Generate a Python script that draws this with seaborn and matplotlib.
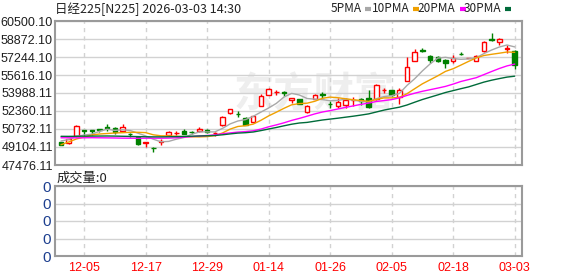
import numpy as np
import pandas as pd
import matplotlib
matplotlib.use("Agg")
import matplotlib.pyplot as plt
from matplotlib.lines import Line2D
import seaborn as sns

# Nikkei 225 daily candles
dates = [
    '2025-12-02', '2025-12-03', '2025-12-04', '2025-12-05', '2025-12-08', '2025-12-09', '2025-12-10',
    '2025-12-11', '2025-12-12', '2025-12-15', '2025-12-16', '2025-12-17', '2025-12-18', '2025-12-19',
    '2025-12-22', '2025-12-23', '2025-12-24', '2025-12-25', '2025-12-26', '2025-12-29', '2025-12-30',
    '2026-01-05', '2026-01-06', '2026-01-07', '2026-01-08', '2026-01-09', '2026-01-13', '2026-01-14',
    '2026-01-15', '2026-01-16', '2026-01-19', '2026-01-20', '2026-01-21', '2026-01-22', '2026-01-23',
    '2026-01-26', '2026-01-27', '2026-01-28', '2026-01-29', '2026-01-30', '2026-02-02', '2026-02-03',
    '2026-02-04', '2026-02-05', '2026-02-06', '2026-02-09', '2026-02-10', '2026-02-12', '2026-02-13',
    '2026-02-16', '2026-02-17', '2026-02-18', '2026-02-19', '2026-02-20', '2026-02-24', '2026-02-25',
    '2026-02-26', '2026-02-27', '2026-03-02', '2026-03-03',
]
open_ = [49530, 49466, 50099, 50615, 50620, 50690, 50913, 50823, 50580, 50310,
         50009, 49510, 49030, 49556, 50160, 50350, 50520, 50480, 50520, 50670,
         50350, 51050, 52200, 52110, 51700, 51390, 52812, 53850, 54090, 54040,
         53400, 53420, 52240, 53460, 53880, 53010, 52840, 52900, 53340, 53420,
         53510, 53445, 54240, 54260, 53650, 55100, 56882, 57920, 57290, 57244,
         56973, 56882, 57560, 57150, 56882, 57787, 58917, 58630, 58010, 57787]
high = [49580, 49850, 51050, 50640, 50650, 50760, 51184, 50890, 51184, 50400,
        50140, 49560, 49080, 49850, 50550, 50520, 50690, 50520, 50890, 50760,
        50500, 51900, 52540, 52360, 51850, 51910, 53940, 54440, 54260, 54200,
        53580, 53490, 52860, 53900, 54050, 53290, 53510, 53560, 53650, 53560,
        54260, 54760, 54410, 54300, 54410, 57240, 58010, 58100, 57470, 57290,
        57020, 57380, 57740, 57150, 57380, 58650, 59370, 58920, 58329, 57877]
low = [49290, 49420, 50050, 50099, 50190, 50460, 50520, 50280, 50551, 50009,
       49330, 49080, 48610, 49260, 50099, 50160, 50280, 50280, 50460, 50370,
       50099, 51003, 52060, 51850, 51050, 51320, 52770, 53810, 53810, 53720,
       53050, 52990, 52220, 53445, 53510, 52600, 52600, 52600, 52812, 52900,
       52630, 53400, 54020, 53760, 52990, 55030, 56840, 57740, 56670, 56790,
       56220, 56700, 57425, 57150, 56840, 57740, 58736, 58329, 57580, 56159]
close = [49330, 49828, 51003, 50570, 50560, 50640, 50780, 50461, 50890, 50235,
         49405, 49540, 48990, 49690, 50430, 50390, 50310, 50440, 50760, 50461,
         50390, 51860, 52510, 52060, 51094, 51880, 53740, 54390, 54120, 53990,
         53510, 53020, 52812, 53780, 53840, 52970, 53200, 53355, 53380, 53240,
         52700, 54712, 54280, 53807, 54230, 56350, 57720, 57830, 56973, 56850,
         56700, 57154, 57515, 57150, 57360, 58560, 58781, 58872, 58060, 56520]

# moving average lines as drawn on the chart
ma5 = [49647, 49783, 50054, 50190, 50262, 50524, 50714, 50606, 50669, 50597,
       50353, 50108, 49810, 49575, 49611, 49810, 49964, 50253, 50470, 50470,
       50470, 50787, 51194, 51456, 51583, 51881, 52261, 52632, 53048, 53627,
       53952, 53807, 53491, 53428, 53391, 53283, 53319, 53428, 53346, 53229,
       53174, 53473, 53663, 53744, 53943, 54676, 55282, 55987, 56620, 57145,
       57217, 57099, 57036, 57072, 57181, 57552, 57877, 58148, 58329, 58158]
ma10 = [49313, 49557, 49828, 50009, 50190, 50280, 50325, 50371, 50398, 50434,
        50434, 50407, 50208, 50117, 50108, 50081, 50036, 50027, 50018, 50045,
        50136, 50371, 50723, 50959, 51031, 51176, 51519, 51917, 52252, 52605,
        52921, 53030, 53066, 53238, 53509, 53617, 53563, 53464, 53382, 53310,
        53229, 53400, 53546, 53546, 53590, 53925, 54377, 54820, 55182, 55544,
        55942, 56186, 56512, 56846, 57163, 57380, 57489, 57588, 57696, 57669]
ma20 = [49937, 49940, 49930, 49937, 49945, 49937, 49930, 49920, 49905, 49900,
        49895, 49900, 49905, 49900, 49910, 49937, 49991, 50045, 50099, 50145,
        50199, 50298, 50380, 50452, 50497, 50570, 50723, 50931, 51103, 51293,
        51510, 51691, 51890, 52098, 52270, 52397, 52541, 52686, 52822, 52957,
        53075, 53220, 53301, 53391, 53546, 53772, 53971, 54143, 54287, 54432,
        54586, 54794, 55029, 55201, 55373, 55653, 55933, 56204, 56439, 56602]
ma30 = [50070, 50065, 50075, 50085, 50090, 50095, 50100, 50090, 50075, 50060,
        50045, 50030, 50020, 50020, 50030, 50045, 50060, 50080, 50100, 50120,
        50145, 50208, 50289, 50362, 50398, 50461, 50588, 50732, 50868, 51022,
        51166, 51275, 51329, 51438, 51546, 51628, 51709, 51800, 51890, 51990,
        52098, 52270, 52442, 52578, 52704, 52903, 53156, 53400, 53608, 53816,
        54033, 54205, 54377, 54540, 54757, 54974, 55146, 55291, 55426, 55508]

price_ticks = [47476.11, 49104.11, 50732.11, 52360.11, 53988.11, 55616.10, 57244.10, 58872.10, 60500.10]
tick_dates = ['2025-12-05', '2025-12-17', '2025-12-29', '2026-01-14',
              '2026-01-26', '2026-02-05', '2026-02-18', '2026-03-03']
volume_ticks = [0, 1, 2, 3, 4]
volume_labels = ['0', '0', '0', '0', '0']

ma_names = ['5PMA', '10PMA', '20PMA', '30PMA']
ma_colors = ['#a8a8a8', '#f0a000', '#ff00ff', '#006b3a']
red = '#ff0000'
green = '#008000'
grid_c = '#d2d2d2'
frame_c = '#9a9a9a'

sns.set_style('white')
plt.rcParams['font.family'] = ['Liberation Sans', 'Noto Sans CJK SC', 'DejaVu Sans']

df = pd.DataFrame({'date': pd.to_datetime(dates), 'open': open_, 'high': high,
                   'low': low, 'close': close})
df['pos'] = np.arange(len(df))
up = df['close'] >= df['open']

ma_long = pd.DataFrame({'pos': np.tile(df['pos'], 4),
                        'value': ma5 + ma10 + ma20 + ma30,
                        'ma': np.repeat(ma_names, len(df))})

W, H = 578, 276
fig = plt.figure(figsize=(W / 100, H / 100), dpi=100)


def px_axes(left, top, right, bottom):
    return fig.add_axes([left / W, 1 - bottom / H, (right - left) / W, (bottom - top) / H])


ax = px_axes(55, 21, 522, 165)
axv = px_axes(55, 186, 522, 256)

xlim = (-0.78, len(df) - 0.05)
tick_pos = [int(df.index[df['date'] == pd.Timestamp(d)][0]) for d in tick_dates]

# watermark
ax.text(0.555, 0.49, '东方财富', transform=ax.transAxes, ha='center', va='center',
        fontsize=29, fontweight='bold', color='#eeeeee', family=['Noto Sans CJK SC'], zorder=0)

# candles
ax.vlines(df['pos'], df['low'], df['high'], colors=np.where(up, red, green), lw=1, zorder=2)
ax.bar(df['pos'], (df['close'] - df['open']).abs(), bottom=df[['open', 'close']].min(axis=1),
       width=0.58, color=np.where(up, 'white', green), edgecolor=np.where(up, red, green),
       linewidth=1, zorder=3)

sns.lineplot(data=ma_long, x='pos', y='value', hue='ma', hue_order=ma_names,
             palette=ma_colors, estimator=None, lw=1, legend=False, ax=ax, zorder=4)

for a in (ax, axv):
    a.set_xlim(*xlim)
    a.set_xticks(tick_pos)
    a.set_xlabel('')
    a.set_ylabel('')
    a.xaxis.grid(True, color=grid_c, lw=1, ls=(0, (3, 3)))
    a.yaxis.grid(True, color=grid_c, lw=1)
    a.set_axisbelow(True)
    for s in a.spines.values():
        s.set_color(frame_c)
        s.set_linewidth(1.5)
    a.tick_params(length=0)

ax.set_ylim(price_ticks[0], price_ticks[-1])
ax.set_yticks(price_ticks)
ax.set_yticklabels([f'{v:.2f}' for v in price_ticks], fontsize=9, color='#1e1e1e')
ax.tick_params(axis='y', pad=1.5)
ax.tick_params(axis='x', labelbottom=False)

axv.set_ylim(volume_ticks[0], volume_ticks[-1])
axv.set_yticks(volume_ticks)
axv.set_yticklabels(volume_labels, fontsize=11, color='#1d3f8f')
axv.tick_params(axis='y', pad=3)
axv.set_xticklabels([pd.Timestamp(d).strftime('%m-%d') for d in tick_dates],
                    fontsize=9, color=red)
axv.tick_params(axis='x', pad=4)

# header texts
fig.text(55 / W, 1 - 9 / H, '日经225[N225] 2026-03-03 14:30', ha='left', va='center',
         fontsize=9, color='#222222', family=['Noto Sans CJK SC', 'DejaVu Sans'])
fig.text(57 / W, 1 - 178 / H, '成交量:0', ha='left', va='center',
         fontsize=9.5, color='#222222', family=['Noto Sans CJK SC', 'DejaVu Sans'])

legend_end = [362, 410, 455, 501]
dash_x = [365, 413, 460, 505]
for name, col, lx, dx in zip(ma_names, ma_colors, legend_end, dash_x):
    fig.text(lx / W, 1 - 9 / H, name, ha='right', va='center', fontsize=8.5,
             color='#222222', family=['Noto Sans CJK SC', 'DejaVu Sans'])
    fig.add_artist(Line2D([dx / W, (dx + 6) / W], [1 - 9 / H, 1 - 9 / H],
                          color=col, lw=3, solid_capstyle='butt'))

fig.savefig('out.png', dpi=100)
